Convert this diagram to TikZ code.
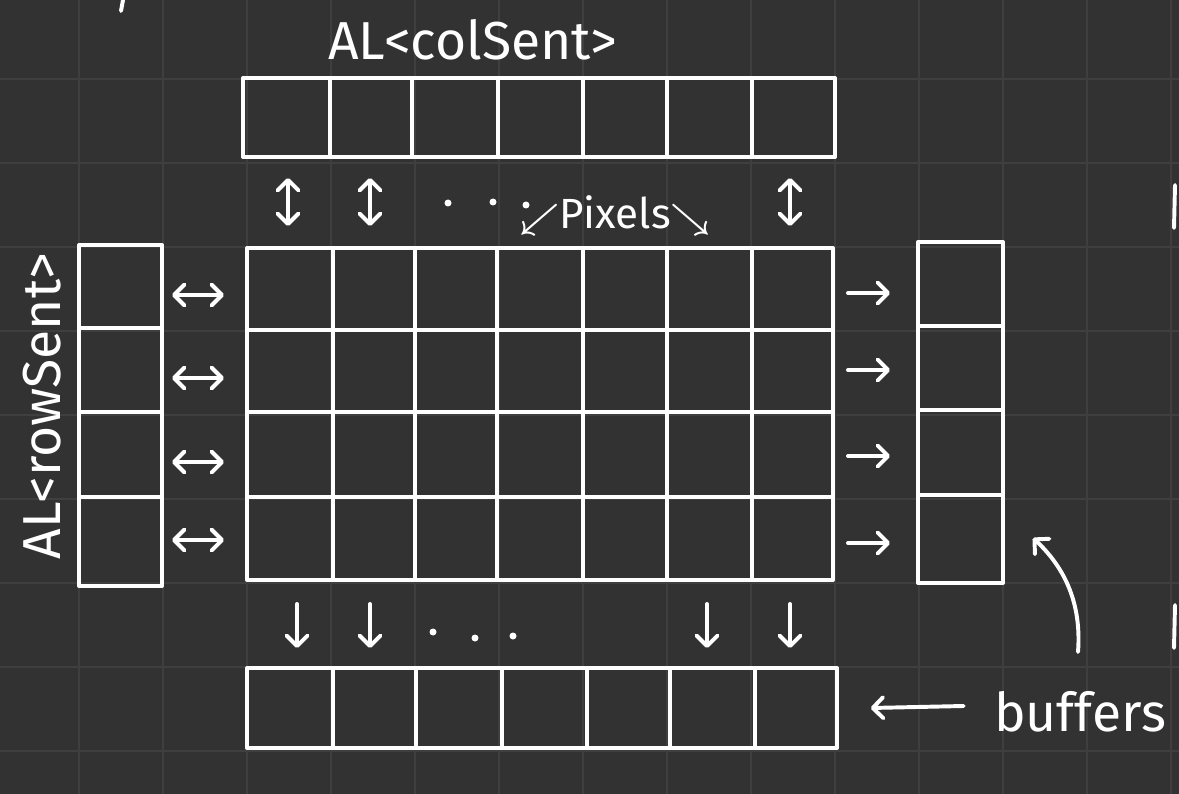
\documentclass[tikz,border=0pt]{standalone}
\usepackage{fontspec}
\setmainfont{Fira Sans}
\usepackage{tikz}
\usetikzlibrary{arrows.meta}
\definecolor{board}{HTML}{323232}
\definecolor{gridline}{HTML}{3F3F3F}
\tikzset{
  ink/.style={draw=white, line width=2.8pt, line join=round, line cap=round},
  barb/.tip={Straight Barb[round, length=7.5pt, width=15pt]},
  hand/.style={ink, -barb},
  handboth/.style={ink, barb-barb},
  script/.style={text=white, font=\fontsize{38}{40}\selectfont, inner sep=0pt}
}

\begin{document}
\begin{tikzpicture}[x=0.025cm, y=-0.025cm]
\useasboundingbox (0,0) rectangle (1179,794);
\fill[board] (0,0) rectangle (1179,794);
\foreach \g in {79,163,...,1171}
  \draw[gridline, line width=1.3pt] (\g,0) -- (\g,794);
\foreach \g in {79,163,...,751}
  \draw[gridline, line width=1.3pt] (0,\g) -- (1179,\g);
\draw[ink] (243,78) rectangle (835,157);
\foreach \c in {330,412,498,583,667,752}
  \draw[ink] (\c,78) -- (\c,157);
\draw[ink] (247,248) rectangle (833,580);
\foreach \c in {333,415,497,583,667,752}
  \draw[ink] (\c,248) -- (\c,580);
\foreach \r in {330,412,497}
  \draw[ink] (247,\r) -- (833,\r);
\draw[ink] (79,245) rectangle (162,586);
\foreach \r in {328,412,497}
  \draw[ink] (79,\r) -- (162,\r);
\draw[ink] (918,242) rectangle (1003,583);
\foreach \r in {326,410,495}
  \draw[ink] (918,\r) -- (1003,\r);
\draw[ink] (247,668) rectangle (837,748);
\foreach \c in {333,416,502,587,670,755}
  \draw[ink] (\c,668) -- (\c,748);
\coordinate (botend) at (837,708);
\foreach \x in {288,370,790}
  \draw[handboth] (\x,178) -- (\x,226);
\foreach \y in {295,378,462,540}
  \draw[handboth] (172,\y) -- (224,\y);
\foreach \y in {293,370,456,543}
  \draw[hand] (848,\y) -- (890,\y);
\foreach \x in {297,370,707,790}
  \draw[hand] (\x,604) -- (\x,648);
\foreach \p in {(448,203),(493,202),(526,205),(433,632),(475,638),(513,636)}
  \fill[white] \p circle (3.5);
\node[script] (colname) at (473,40) {AL<colSent>};
\node[script, rotate=90] (rowname) at (42,406) {AL<rowSent>};
\node[script, font=\fontsize{30}{32}\selectfont\boldmath] (pixname) at (615,215) {$\swarrow$Pixels$\searrow$};
\node[script] (bufname) at (1080,712) {buffers};
\draw[hand] (bufname.west) ++(-30,-6) -- ([xshift=24]botend);
\draw[hand] (1078,652) .. controls (1082,600) and (1062,565) .. (1033,538);
\draw[ink] (123,0) -- (121,11);
\draw[ink] (1175,185) -- (1174,228);
\draw[ink] (1175,605) -- (1174,648);
\end{tikzpicture}
\end{document}
